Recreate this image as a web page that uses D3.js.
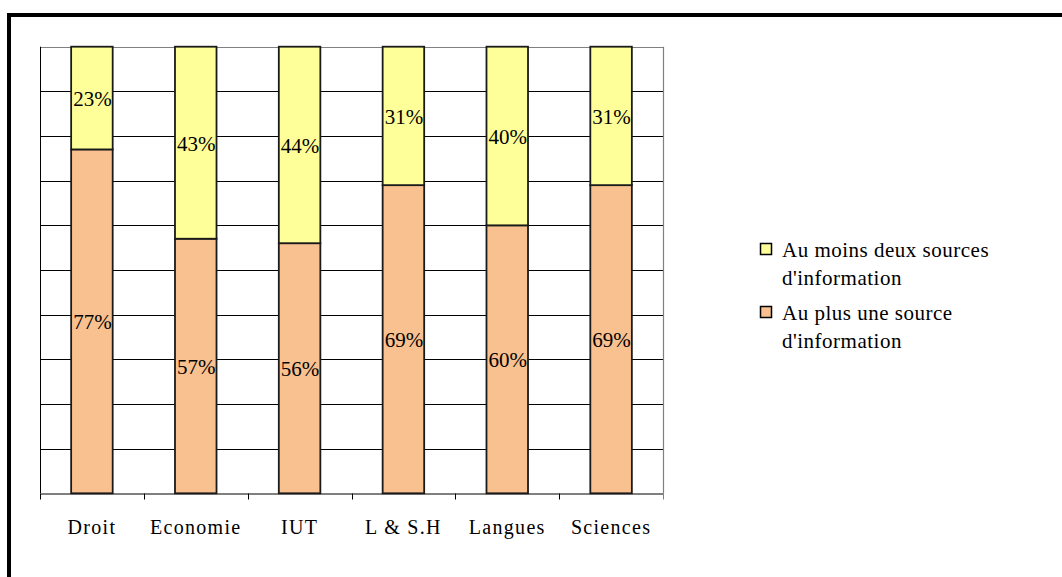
<!DOCTYPE html>
<html>
<head>
<meta charset="utf-8">
<script src="https://cdn.jsdelivr.net/npm/d3@7"></script>
<style>
html, body { margin: 0; padding: 0; background: #fff; }
svg { display: block; }
</style>
</head>
<body>
<svg id="chart" width="1062" height="577"></svg>
<script>
const categories = ["Droit", "Economie", "IUT", "L & S.H", "Langues", "Sciences"];
const auPlusUne = [77, 57, 56, 69, 60, 69];
const auMoinsDeux = [23, 43, 44, 31, 40, 31];
const seriesNames = ["Au moins deux sources d'information", "Au plus une source d'information"];
const legendLines = [["Au moins deux sources", "d'information"], ["Au plus une source", "d'information"]];
const yTicks = [0, 10, 20, 30, 40, 50, 60, 70, 80, 90, 100];

const colors = { moins: "#FFFF99", plus: "#F9C18F" };
const FONT = "Liberation Serif";

const svg = d3.select("#chart");
const W = 1062, H = 577;
const plot = { left: 40, right: 663, top: 46.7, bottom: 493.3 };

// outer frame (extends beyond the picture on right and bottom)
svg.append("rect")
  .attr("x", 9).attr("y", 15)
  .attr("width", W + 20).attr("height", H + 20)
  .attr("fill", "none").attr("stroke", "#000").attr("stroke-width", 4);

const x = d3.scaleBand().domain(categories).range([plot.left, plot.right]).paddingInner(0.6).paddingOuter(0.3);
const xOuter = d3.scaleBand().domain(categories).range([plot.left, plot.right]).padding(0);
const y = d3.scaleLinear().domain([0, 100]).range([plot.bottom, plot.top]);

// gridlines
svg.append("g").selectAll("line")
  .data(yTicks.filter(t => t > 0 && t < 100))
  .join("line")
  .attr("x1", plot.left).attr("x2", plot.right)
  .attr("y1", d => Math.round(y(d)) + 0.5).attr("y2", d => Math.round(y(d)) + 0.5)
  .attr("stroke", "#000").attr("stroke-width", 1);

// top and right borders (gray)
svg.append("line").attr("x1", plot.left).attr("x2", plot.right)
  .attr("y1", Math.round(plot.top) + 0.5).attr("y2", Math.round(plot.top) + 0.5)
  .attr("stroke", "#808080").attr("stroke-width", 1.2);
svg.append("line").attr("x1", plot.right + 0.5).attr("x2", plot.right + 0.5)
  .attr("y1", plot.top).attr("y2", plot.bottom)
  .attr("stroke", "#808080").attr("stroke-width", 1.2);

// y axis line
svg.append("line").attr("x1", plot.left + 0.5).attr("x2", plot.left + 0.5)
  .attr("y1", plot.top).attr("y2", plot.bottom)
  .attr("stroke", "#000").attr("stroke-width", 1);

// x axis
const xAxis = d3.axisBottom(xOuter).tickSize(0).tickFormat("");
const gx = svg.append("g").attr("transform", `translate(0,${Math.round(plot.bottom) + 0.5})`).call(xAxis);
gx.attr("font-family", FONT);
gx.select(".domain").attr("stroke", "#000").attr("stroke-width", 1);
const tickXs = categories.map(c => xOuter(c)).concat([plot.right]);
gx.selectAll("line.tk").data(tickXs).join("line").attr("class", "tk")
  .attr("x1", d => Math.round(d) + 0.5).attr("x2", d => Math.round(d) + 0.5)
  .attr("y1", 0).attr("y2", 6)
  .attr("stroke", (d, i) => i === tickXs.length - 1 ? "#808080" : "#000").attr("stroke-width", 1);

// stacked data
const rows = categories.map((c, i) => ({ cat: c, plus: auPlusUne[i], moins: auMoinsDeux[i] }));
const stack = d3.stack().keys(["plus", "moins"]);
const stacked = stack(rows);

const bars = svg.append("g");
stacked.forEach(layer => {
  bars.append("g").selectAll("rect")
    .data(layer)
    .join("rect")
    .attr("x", d => x(d.data.cat))
    .attr("width", x.bandwidth())
    .attr("y", d => y(d[1]))
    .attr("height", d => y(d[0]) - y(d[1]))
    .attr("fill", colors[layer.key])
    .attr("stroke", "#1a1a1a")
    .attr("stroke-width", 1.8);
});

// value labels
stacked.forEach(layer => {
  svg.append("g").selectAll("text")
    .data(layer)
    .join("text")
    .attr("x", d => x(d.data.cat) + x.bandwidth() / 2 + 0.5)
    .attr("y", d => (y(d[0]) + y(d[1])) / 2 + 8)
    .attr("text-anchor", "middle")
    .attr("font-family", FONT)
    .attr("font-size", 21)
    .text(d => (d[1] - d[0]) + "%");
});

// category labels
svg.append("g").selectAll("text")
  .data(categories)
  .join("text")
  .attr("x", d => xOuter(d) + xOuter.bandwidth() / 2)
  .attr("y", 534)
  .attr("text-anchor", "middle")
  .attr("font-family", FONT)
  .attr("font-size", 20)
  .attr("letter-spacing", 1.3)
  .text(d => d);

// legend
const legendItems = [
  { color: colors.moins, lines: legendLines[0], y: 243 },
  { color: colors.plus, lines: legendLines[1], y: 306 }
];
const lg = svg.append("g");
legendItems.forEach(it => {
  lg.append("rect").attr("x", 760.5).attr("y", it.y + 0.5).attr("width", 11).attr("height", 11)
    .attr("fill", it.color).attr("stroke", "#000").attr("stroke-width", 1.5);
  it.lines.forEach((ln, j) => {
    lg.append("text").attr("x", 782).attr("y", it.y + 14 + j * 28)
      .attr("font-family", FONT)
      .attr("font-size", 21)
      .attr("letter-spacing", 0.5)
      .text(ln);
  });
});
</script>
</body>
</html>
